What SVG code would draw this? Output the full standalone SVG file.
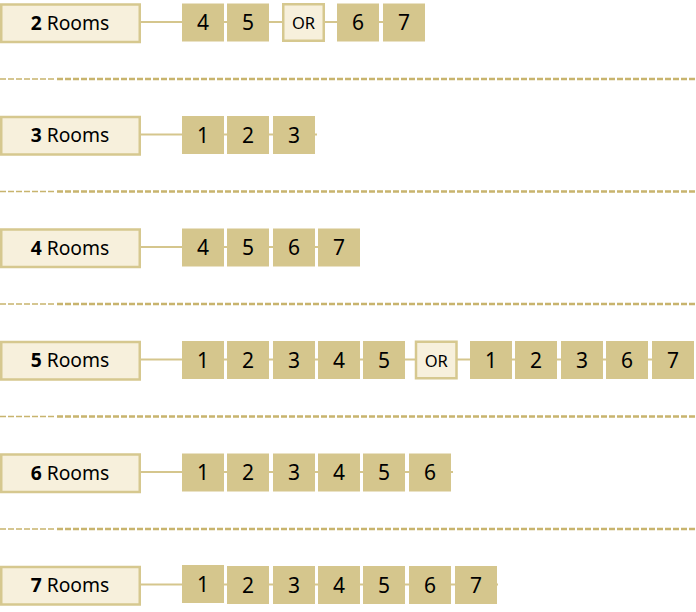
<svg xmlns="http://www.w3.org/2000/svg" width="696" height="612" viewBox="0 0 696 612">
<style>
.lbl{fill:#F7F0DC;stroke:#D6C88F;stroke-width:2.5}
.box{fill:#D5C68D}
.or{fill:#F7F0DC;stroke:#D6C88F;stroke-width:2.5}
.t{font-family:"Noto Sans","Liberation Sans",sans-serif;fill:#000;text-anchor:middle}
.num{font-size:21px}
.ltxt{font-size:19.3px}
.ortxt{font-size:16.5px}
.conn{stroke:#D5C68D;stroke-width:2;fill:none}
.sep1{stroke:#C8B46E;stroke-width:1.6;stroke-dasharray:6 2}
.sep2{stroke:#C8B46E;stroke-width:2.5;stroke-dasharray:6 2}
</style>
<rect width="696" height="612" fill="#fff"/>
<g id="separators">
<line class="sep1" x1="0" y1="79" x2="56" y2="79"/><line class="sep2" x1="57" y1="79" x2="696" y2="79"/>
<line class="sep1" x1="0" y1="191.5" x2="56" y2="191.5"/><line class="sep2" x1="57" y1="191.5" x2="696" y2="191.5"/>
<line class="sep1" x1="0" y1="304" x2="56" y2="304"/><line class="sep2" x1="57" y1="304" x2="696" y2="304"/>
<line class="sep1" x1="0" y1="416.5" x2="56" y2="416.5"/><line class="sep2" x1="57" y1="416.5" x2="696" y2="416.5"/>
<line class="sep1" x1="0" y1="529" x2="56" y2="529"/><line class="sep2" x1="57" y1="529" x2="696" y2="529"/>
</g>
<g id="connectors">
<line class="conn" x1="141" y1="22" x2="425" y2="22"/>
<line class="conn" x1="141" y1="134.5" x2="317" y2="134.5"/>
<line class="conn" x1="141" y1="247" x2="360" y2="247"/>
<line class="conn" x1="141" y1="359.5" x2="694" y2="359.5"/>
<line class="conn" x1="141" y1="472" x2="453" y2="472"/>
<line class="conn" x1="141" y1="584.5" x2="498" y2="584.5"/>
</g>
<!-- Row 2 rooms -->
<g id="label-2"><rect class="lbl" x="1.25" y="4.5" width="138.5" height="37.5"/><text class="t ltxt" x="70" y="29.5"><tspan font-weight="bold">2</tspan> Rooms</text></g>
<g id="r2-4"><rect class="box" x="182" y="3.5" width="42" height="38"/><text class="t num" x="203" y="30">4</text></g>
<g id="r2-5"><rect class="box" x="227" y="3.5" width="42" height="38"/><text class="t num" x="248" y="30">5</text></g>
<g id="r2-or"><rect class="or" x="283.25" y="4.25" width="40.5" height="36.5"/><text class="t ortxt" x="303.5" y="29">OR</text></g>
<g id="r2-6"><rect class="box" x="337" y="3.5" width="42" height="38"/><text class="t num" x="358" y="30">6</text></g>
<g id="r2-7"><rect class="box" x="383" y="3.5" width="42" height="38"/><text class="t num" x="404" y="30">7</text></g>
<!-- Row 3 rooms -->
<g id="label-3"><rect class="lbl" x="1.25" y="117" width="138.5" height="37.5"/><text class="t ltxt" x="70" y="142"><tspan font-weight="bold">3</tspan> Rooms</text></g>
<g id="r3-1"><rect class="box" x="182" y="116" width="42" height="38"/><text class="t num" x="203" y="142.5">1</text></g>
<g id="r3-2"><rect class="box" x="227" y="116" width="42" height="38"/><text class="t num" x="248" y="142.5">2</text></g>
<g id="r3-3"><rect class="box" x="273" y="116" width="42" height="38"/><text class="t num" x="294" y="142.5">3</text></g>
<!-- Row 4 rooms -->
<g id="label-4"><rect class="lbl" x="1.25" y="229.5" width="138.5" height="37.5"/><text class="t ltxt" x="70" y="254.5"><tspan font-weight="bold">4</tspan> Rooms</text></g>
<g id="r4-4"><rect class="box" x="182" y="228.5" width="42" height="38"/><text class="t num" x="203" y="255">4</text></g>
<g id="r4-5"><rect class="box" x="227" y="228.5" width="42" height="38"/><text class="t num" x="248" y="255">5</text></g>
<g id="r4-6"><rect class="box" x="273" y="228.5" width="42" height="38"/><text class="t num" x="294" y="255">6</text></g>
<g id="r4-7"><rect class="box" x="318" y="228.5" width="42" height="38"/><text class="t num" x="339" y="255">7</text></g>
<!-- Row 5 rooms -->
<g id="label-5"><rect class="lbl" x="1.25" y="342" width="138.5" height="37.5"/><text class="t ltxt" x="70" y="367"><tspan font-weight="bold">5</tspan> Rooms</text></g>
<g id="r5-1"><rect class="box" x="182" y="341" width="42" height="38"/><text class="t num" x="203" y="367.5">1</text></g>
<g id="r5-2"><rect class="box" x="227" y="341" width="42" height="38"/><text class="t num" x="248" y="367.5">2</text></g>
<g id="r5-3"><rect class="box" x="273" y="341" width="42" height="38"/><text class="t num" x="294" y="367.5">3</text></g>
<g id="r5-4"><rect class="box" x="318" y="341" width="42" height="38"/><text class="t num" x="339" y="367.5">4</text></g>
<g id="r5-5"><rect class="box" x="363" y="341" width="42" height="38"/><text class="t num" x="384" y="367.5">5</text></g>
<g id="r5-or"><rect class="or" x="416" y="341.75" width="40.5" height="36.5"/><text class="t ortxt" x="436.25" y="366.5">OR</text></g>
<g id="r5-1b"><rect class="box" x="470" y="341" width="42" height="38"/><text class="t num" x="491" y="367.5">1</text></g>
<g id="r5-2b"><rect class="box" x="515" y="341" width="42" height="38"/><text class="t num" x="536" y="367.5">2</text></g>
<g id="r5-3b"><rect class="box" x="561" y="341" width="42" height="38"/><text class="t num" x="582" y="367.5">3</text></g>
<g id="r5-6b"><rect class="box" x="606" y="341" width="42" height="38"/><text class="t num" x="627" y="367.5">6</text></g>
<g id="r5-7b"><rect class="box" x="652" y="341" width="42" height="38"/><text class="t num" x="673" y="367.5">7</text></g>
<!-- Row 6 rooms -->
<g id="label-6"><rect class="lbl" x="1.25" y="454.5" width="138.5" height="37.5"/><text class="t ltxt" x="70" y="479.5"><tspan font-weight="bold">6</tspan> Rooms</text></g>
<g id="r6-1"><rect class="box" x="182" y="453.5" width="42" height="38"/><text class="t num" x="203" y="480">1</text></g>
<g id="r6-2"><rect class="box" x="227" y="453.5" width="42" height="38"/><text class="t num" x="248" y="480">2</text></g>
<g id="r6-3"><rect class="box" x="273" y="453.5" width="42" height="38"/><text class="t num" x="294" y="480">3</text></g>
<g id="r6-4"><rect class="box" x="318" y="453.5" width="42" height="38"/><text class="t num" x="339" y="480">4</text></g>
<g id="r6-5"><rect class="box" x="363" y="453.5" width="42" height="38"/><text class="t num" x="384" y="480">5</text></g>
<g id="r6-6"><rect class="box" x="409" y="453.5" width="42" height="38"/><text class="t num" x="430" y="480">6</text></g>
<!-- Row 7 rooms -->
<g id="label-7"><rect class="lbl" x="1.25" y="567" width="138.5" height="37.5"/><text class="t ltxt" x="70" y="592"><tspan font-weight="bold">7</tspan> Rooms</text></g>
<g id="r7-1"><rect class="box" x="182" y="565" width="42" height="38"/><text class="t num" x="203" y="591.5">1</text></g>
<g id="r7-2"><rect class="box" x="227" y="566" width="42" height="38"/><text class="t num" x="248" y="592.5">2</text></g>
<g id="r7-3"><rect class="box" x="273" y="566" width="42" height="38"/><text class="t num" x="294" y="592.5">3</text></g>
<g id="r7-4"><rect class="box" x="318" y="566" width="42" height="38"/><text class="t num" x="339" y="592.5">4</text></g>
<g id="r7-5"><rect class="box" x="363" y="566" width="42" height="38"/><text class="t num" x="384" y="592.5">5</text></g>
<g id="r7-6"><rect class="box" x="409" y="566" width="42" height="38"/><text class="t num" x="430" y="592.5">6</text></g>
<g id="r7-7"><rect class="box" x="455" y="566" width="42" height="38"/><text class="t num" x="476" y="592.5">7</text></g>
</svg>
